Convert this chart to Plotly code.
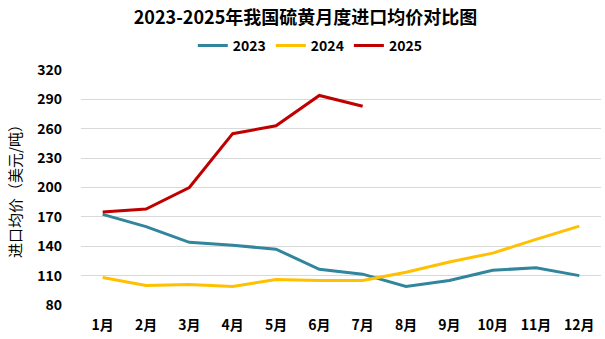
import plotly.graph_objects as go

months = ["1月", "2月", "3月", "4月", "5月", "6月", "7月", "8月", "9月", "10月", "11月", "12月"]
price_2023 = [172.5, 160, 144, 141, 137, 116.5, 111.5, 99, 105, 115.5, 118, 110]
price_2024 = [108, 100, 101, 99, 106, 105, 105, 113.5, 124, 133, 147, 160.5]
price_2025 = [175, 178, 200, 255, 263, 294, 283]
y_ticks = [80, 110, 140, 170, 200, 230, 260, 290, 320]

series = [
    ("2023", price_2023, "#31859C"),
    ("2024", price_2024, "#FFC000"),
    ("2025", price_2025, "#C00000"),
]

font_family = "Noto Sans CJK SC"

fig = go.Figure()
for name, values, color in series:
    fig.add_trace(go.Scatter(
        x=months[:len(values)], y=values, name=name, mode="lines",
        line=dict(color=color, width=3),
    ))

fig.update_layout(
    width=605, height=339,
    margin=dict(l=81, r=4, t=70, b=34),
    paper_bgcolor="white", plot_bgcolor="white",
    font=dict(family=font_family, color="black"),
    title=dict(
        text="<b>2023-2025年我国硫黄月度进口均价对比图</b>",
        x=0.505, xanchor="center", y=0.948, yanchor="middle",
        font=dict(size=18, color="black"),
    ),
    legend=dict(
        orientation="h", x=0.215, xanchor="left", y=1.103, yanchor="middle",
        font=dict(size=14, color="black", weight="bold"),
        itemwidth=30, tracegroupgap=0,
    ),
    showlegend=True,
)

fig.update_xaxes(
    type="category", categoryorder="array", categoryarray=months,
    range=[-0.5, 11.5], showgrid=False, showline=False, zeroline=False,
    ticks="", ticklabelstandoff=10,
    tickfont=dict(size=14, color="black", weight="bold"),
)
fig.update_yaxes(
    range=[80, 320], tickvals=y_ticks, showgrid=True, gridcolor="#D9D9D9",
    gridwidth=1, zeroline=False, showline=False, ticks="",
    ticklabelstandoff=18,
    tickfont=dict(size=14, color="black", weight="bold"),
    title=dict(text="进口均价（美元/吨）", font=dict(size=15, color="black"), standoff=11),
)

fig.write_html("out.html")
